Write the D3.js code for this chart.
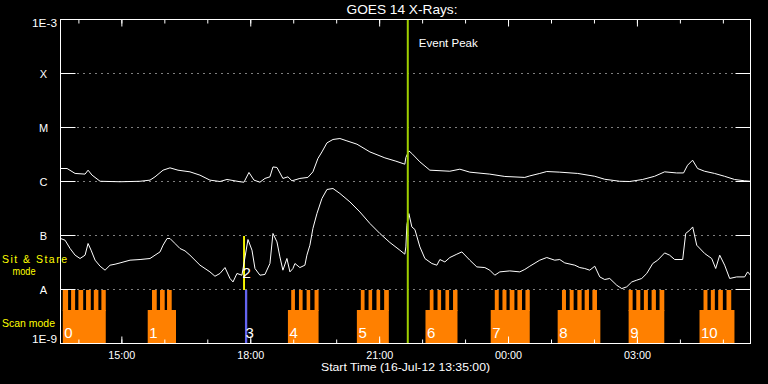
<!DOCTYPE html>
<html>
<head>
<meta charset="utf-8">
<script src="https://cdn.jsdelivr.net/npm/d3@7"></script>
<style>
  body { margin: 0; background: #000; }
  svg { display: block; }
  text { font-family: "Liberation Sans", "DejaVu Sans", sans-serif; fill: #fff; }
</style>
</head>
<body>
<svg id="chart"></svg>
<script>
// GOES 14 X-ray flux, 16-Jul-12, times in minutes after 13:35 UT

const longMin = [0, 9.2, 20.4, 34.3, 38.5, 44.1, 55.3, 83.2, 111.1, 125, 132, 143.2, 152.9, 164.1, 180.8, 194.8, 208.7, 222.7, 232.5, 250.6,
  256.2, 263.2, 270.2, 278.5, 285.5, 292.5, 296.7, 302.3, 310.6, 317.6, 323.2, 334.3, 345.5, 352.5, 359.5, 365.1, 372.1, 380.5, 390.2, 400,
  414, 432.1, 453, 468.4, 480.9, 482.3, 486.5, 490.7, 501.9, 515.8, 543.7, 557.7, 571.6, 599.5, 620.5, 648.4, 655.4, 669.3, 679.1, 697.2,
  722.3, 746.1, 760, 781, 794.9, 813, 829.7, 843.7, 860.4, 870.1, 875.7, 882.7, 889.7, 899.4, 913.4, 927.3, 941.3, 955.2, 963.6];
// 1-8 A channel, units of 1e-6 W/m2
const longFlux = [1.74, 1.74, 1.41, 1.37, 1.62, 1.31, 1.01, 0.99, 1.01, 1.06, 1.22, 1.62, 1.79, 1.62, 1.51, 1.31, 1.06, 1.0, 1.09, 0.99,
  0.97, 1.47, 1.06, 0.97, 1.14, 1.22, 1.86, 1.82, 1.14, 1.22, 1.03, 1.14, 1.19, 1.51, 2.67, 3.53, 5.19, 6.0, 6.25, 5.65,
  4.91, 3.53, 2.74, 2.38, 2.09, 2.78, 3.69, 3.30, 2.31, 1.62, 1.55, 1.69, 1.49, 1.37, 1.24, 1.19, 1.27, 1.41, 1.53, 1.49,
  1.41, 1.25, 1.10, 1.01, 1.0, 1.09, 1.25, 1.51, 1.44, 1.44, 2.0, 2.48, 1.74, 1.55, 1.41, 1.25, 1.09, 1.03, 1.01];

const shortMin = [0, 6.4, 13.4, 20.4, 27.3, 34.3, 38.5, 42.7, 48.3, 55.3, 62.2, 69.2, 76.2, 83.2, 97.1, 111.1, 125, 132, 139, 143.2,
  148.8, 152.9, 159.9, 166.9, 173.9, 180.8, 194.8, 208.7, 215.7, 222.7, 229.7, 236.7, 240.9, 246.4, 253.4, 261.8, 267.4, 271.6, 278.5, 285.5,
  292.5, 296.7, 302.3, 306.4, 310.6, 316.2, 320.4, 324.6, 327.4, 334.3, 341.3, 344.1, 348.3, 352.5, 358.1, 365.1, 372.1, 380.5, 390.2, 404.2,
  418.1, 432.1, 446, 460, 473.9, 480.9, 482.3, 483.7, 486.5, 490.7, 494.9, 501.9, 508.9, 518.6, 525.6, 529.8, 536.8, 543.7, 553.5, 560.5,
  571.6, 581.4, 592.6, 599.5, 606.5, 613.5, 627.4, 641.4, 648.4, 655.4, 669.3, 679.1, 690.2, 697.2, 704.2, 718.2, 725.1, 732.1, 739.1, 746.1,
  753.1, 760, 767, 776.8, 783.8, 790.8, 797.8, 804.8, 811.7, 818.7, 827.1, 834, 843.7, 850.7, 857.7, 868.9, 873.1, 878.7, 882.9, 888.5,
  899.6, 909.4, 915, 920.6, 927.5, 934.5, 944.3, 955.4, 959.6, 963.6];
// 0.5-4 A channel, units of 1e-8 W/m2
const shortFlux = [8.80, 8.18, 5.74, 4.32, 3.75, 4.32, 7.11, 5.35, 3.49, 2.70, 2.28, 2.82, 2.94, 3.11, 3.49, 3.59, 3.75, 4.32, 4.97, 6.61,
  8.80, 8.80, 7.11, 5.74, 5.19, 4.32, 2.82, 2.12, 1.76, 1.98, 2.55, 1.60, 1.38, 1.98, 1.84, 8.43, 5.35, 2.45, 1.84, 1.90,
  3.03, 10.9, 7.61, 4.02, 2.28, 3.75, 2.12, 2.45, 3.03, 2.55, 2.82, 4.32, 6.61, 13.5, 25.5, 48.4, 71.1, 74.2, 60.0, 41.9,
  27.3, 16.7, 10.9, 7.42, 5.35, 4.51, 6.15, 15.5, 25.5, 14.4, 12.9, 6.15, 3.75, 3.03, 2.82, 3.59, 3.24, 3.91, 4.51, 4.97,
  3.49, 2.62, 2.55, 2.28, 1.84, 2.12, 2.21, 2.12, 2.35, 2.70, 3.49, 3.91, 3.49, 3.59, 3.11, 2.82, 2.55, 2.45, 2.28, 2.70,
  1.71, 1.53, 1.60, 1.20, 1.04, 1.12, 1.38, 1.49, 1.60, 1.98, 3.03, 3.49, 4.76, 4.32, 3.59, 3.59, 10.9, 12.5, 14.4, 6.61,
  4.64, 3.75, 2.45, 4.32, 2.82, 1.60, 1.71, 1.71, 2.12, 1.84];

// scan mode blocks
const scanLabels = ['0', '1', '4', '5', '6', '7', '8', '9', '10'];
const scanStart = [3.2, 121.8, 317.6, 413.9, 509.7, 600.8, 694.3, 793.4, 892.4];
const scanEnd = [63.2, 161.3, 360.4, 458.5, 554.4, 655.3, 753.9, 843.2, 941.2];
const scanFingers = [
  [[3.2, 10.6], [14.8, 20.4], [25, 31.7], [35.7, 42.3], [46.5, 52.9], [57.1, 63.2]],
  [[127.8, 134.4], [139, 145.5], [148.8, 155.3]],
  [[322.2, 327.4], [333, 338.1], [343.7, 348.7], [354.8, 360.4]],
  [[419.4, 424.6], [430.2, 435.2], [441.3, 446.4], [452, 458.5]],
  [[515.7, 520.9], [526.5, 531.5], [537.6, 542.7], [548.2, 554.4]],
  [[606.5, 612], [617.2, 622.8], [627.3, 633.9], [638.1, 644.5], [649.3, 655.3]],
  [[700.3, 705.9], [711.1, 716.6], [721.8, 727.8], [732, 738], [742.8, 749.2]],
  [[793.4, 799], [804.1, 809.7], [814.7, 820.3], [825.5, 831.5], [836.6, 843.2]],
  [[898, 903.5], [908.2, 913.8], [918.5, 925], [930.1, 936.7]]
];
// sit & stare and the short scan after it
const sitStare = [255.0, 257.6], sitStareLabel = '2';
const shortScan = [257.6, 260.8], shortScanLabel = '3';
const eventPeak = 485;

const yTickValues = [1e-9, 1e-8, 1e-7, 1e-6, 1e-5, 1e-4, 1e-3];
const yTickLabels = ['1E-9', 'A', 'B', 'C', 'M', 'X', '1E-3'];

const width = 768;
const height = 384;
const t0 = Date.UTC(2012, 6, 16, 13, 35);
const at = m => new Date(t0 + m * 60000);

const svg = d3.select('#chart')
  .attr('width', width)
  .attr('height', height)
  .style('background', '#000');

const pLeft = 60.5, pRight = 750.5, pTop = 19.5, pBottom = 343.5;

const x = d3.scaleUtc()
  .domain([at(0), at(963.6)])
  .range([pLeft, pRight]);

const y = d3.scaleLog()
  .domain([1e-9, 1e-3])
  .range([pBottom, pTop]);

svg.append('defs').append('clipPath').attr('id', 'clip')
  .append('rect')
  .attr('x', pLeft).attr('y', pTop)
  .attr('width', pRight - pLeft).attr('height', pBottom - pTop);

// gridlines at each flare class
const grid = svg.append('g');
yTickValues.slice(1, -1).forEach(v => {
  const yy = Math.round(y(v) - 0.5) + 0.5;
  grid.append('line').attr('x1', pLeft).attr('x2', pLeft + 15).attr('y1', yy).attr('y2', yy)
    .attr('stroke', '#fff');
  grid.append('line').attr('x1', pRight - 15).attr('x2', pRight).attr('y1', yy).attr('y2', yy)
    .attr('stroke', '#fff');
  grid.append('line').attr('x1', pLeft + 17).attr('x2', pRight - 15).attr('y1', yy).attr('y2', yy)
    .attr('stroke', '#fff').attr('stroke-dasharray', '1,5');
});

// scan mode blocks
const bandTop = Math.round(y(1e-8));
const bandMid = 310;
const scans = svg.append('g').attr('fill', '#ff8000');
scanStart.forEach((s, i) => {
  scans.append('rect')
    .attr('x', x(at(s))).attr('y', bandMid)
    .attr('width', x(at(scanEnd[i])) - x(at(s)))
    .attr('height', pBottom - bandMid);
  scanFingers[i].forEach(f => {
    scans.append('rect')
      .attr('x', x(at(f[0]))).attr('y', bandTop)
      .attr('width', x(at(f[1])) - x(at(f[0])))
      .attr('height', bandMid - bandTop + 1);
  });
});

svg.append('rect')
  .attr('x', x(at(shortScan[0]))).attr('y', bandTop)
  .attr('width', x(at(shortScan[1])) - x(at(shortScan[0])))
  .attr('height', pBottom - bandTop)
  .attr('fill', '#6464f0');

svg.append('rect')
  .attr('x', x(at(sitStare[0]))).attr('y', Math.round(y(1e-7)))
  .attr('width', x(at(sitStare[1])) - x(at(sitStare[0])))
  .attr('height', bandTop - Math.round(y(1e-7)))
  .attr('fill', '#ffff00');

// flux curves
const line = d3.line()
  .x(d => x(at(d[0])))
  .y(d => y(d[1]));

const curves = svg.append('g').attr('clip-path', 'url(#clip)');
curves.append('path')
  .datum(longMin.map((m, i) => [m, longFlux[i] * 1e-6]))
  .attr('d', line)
  .attr('fill', 'none').attr('stroke', '#fff').attr('stroke-width', 1);
curves.append('path')
  .datum(shortMin.map((m, i) => [m, shortFlux[i] * 1e-8]))
  .attr('d', line)
  .attr('fill', 'none').attr('stroke', '#fff').attr('stroke-width', 1);

// event peak
svg.append('line')
  .attr('x1', x(at(eventPeak))).attr('x2', x(at(eventPeak)))
  .attr('y1', pTop).attr('y2', pBottom)
  .attr('stroke', '#9fcf00').attr('stroke-width', 2);
svg.append('text')
  .attr('x', x(at(eventPeak)) + 11).attr('y', 47)
  .attr('font-size', 11.5).attr('textLength', 59).attr('lengthAdjust', 'spacingAndGlyphs')
  .text('Event Peak');

// block numbers
const labels = svg.append('g').attr('font-size', 15);
scanStart.forEach((s, i) => {
  labels.append('text')
    .attr('x', x(at(s)) + 1.5).attr('y', 338)
    .text(scanLabels[i]);
});
labels.append('text').attr('x', x(at(sitStare[0])) - 0.5).attr('y', 278).text(sitStareLabel);
labels.append('text').attr('x', x(at(shortScan[0])) + 0.5).attr('y', 338).text(shortScanLabel);

// frame
svg.append('rect')
  .attr('x', pLeft).attr('y', pTop)
  .attr('width', pRight - pLeft).attr('height', pBottom - pTop)
  .attr('fill', 'none').attr('stroke', '#fff');

// time axes
const fmt = d3.utcFormat('%H:%M');
const axisB = svg.append('g').attr('transform', `translate(0,${pBottom})`);
axisB.call(d3.axisBottom(x).ticks(d3.utcHour.every(1)).tickSize(-4).tickFormat(''));
axisB.call(g => g.select('.domain').remove());
const axisBMajor = svg.append('g').attr('transform', `translate(0,${pBottom})`);
axisBMajor.call(d3.axisBottom(x).ticks(d3.utcHour.every(3)).tickSize(-7).tickPadding(8).tickFormat(fmt));
axisBMajor.call(g => g.select('.domain').remove());
axisBMajor.selectAll('text')
  .attr('fill', '#fff').attr('font-size', 10.5).attr('font-family', '"Liberation Sans", sans-serif')
  .attr('textLength', 27).attr('lengthAdjust', 'spacingAndGlyphs');

const axisT = svg.append('g').attr('transform', `translate(0,${pTop})`);
axisT.call(d3.axisTop(x).ticks(d3.utcHour.every(1)).tickSize(-4).tickFormat(''));
axisT.call(g => g.select('.domain').remove());
const axisTMajor = svg.append('g').attr('transform', `translate(0,${pTop})`);
axisTMajor.call(d3.axisTop(x).ticks(d3.utcHour.every(3)).tickSize(-7).tickFormat(''));
axisTMajor.call(g => g.select('.domain').remove());

svg.selectAll('.tick line').attr('stroke', '#fff');

// y labels
yTickValues.forEach((v, i) => {
  const isEnd = i === 0 || i === yTickValues.length - 1;
  svg.append('text')
    .attr('x', isEnd ? 57 : 43.5)
    .attr('y', i === 0 ? 343 : (i === yTickValues.length - 1 ? 27 : y(v) + 4))
    .attr('text-anchor', isEnd ? 'end' : 'middle')
    .attr('font-size', 11)
    .attr('textLength', isEnd ? 25 : null)
    .attr('lengthAdjust', isEnd ? 'spacingAndGlyphs' : null)
    .text(yTickLabels[i]);
});

// titles
svg.append('text')
  .attr('x', 402).attr('y', 14)
  .attr('text-anchor', 'middle')
  .attr('font-size', 13).attr('textLength', 111).attr('lengthAdjust', 'spacingAndGlyphs')
  .text('GOES 14 X-Rays:');
svg.append('text')
  .attr('x', 405.5).attr('y', 371)
  .attr('text-anchor', 'middle')
  .attr('font-size', 11).attr('textLength', 169).attr('lengthAdjust', 'spacingAndGlyphs')
  .text('Start Time (16-Jul-12 13:35:00)');

// mode labels
const modes = svg.append('g').attr('font-size', 10.5);
modes.append('text').attr('x', 2).attr('y', 263).attr('textLength', 65)
  .style('fill', '#ffff00').text('Sit & Stare');
modes.append('text').attr('x', 12.5).attr('y', 275).attr('textLength', 23).attr('lengthAdjust', 'spacingAndGlyphs')
  .style('fill', '#ffff00').text('mode');
modes.append('text').attr('x', 2).attr('y', 327).attr('textLength', 53).attr('lengthAdjust', 'spacingAndGlyphs')
  .style('fill', '#ffff00').text('Scan mode');
</script>
</body>
</html>
